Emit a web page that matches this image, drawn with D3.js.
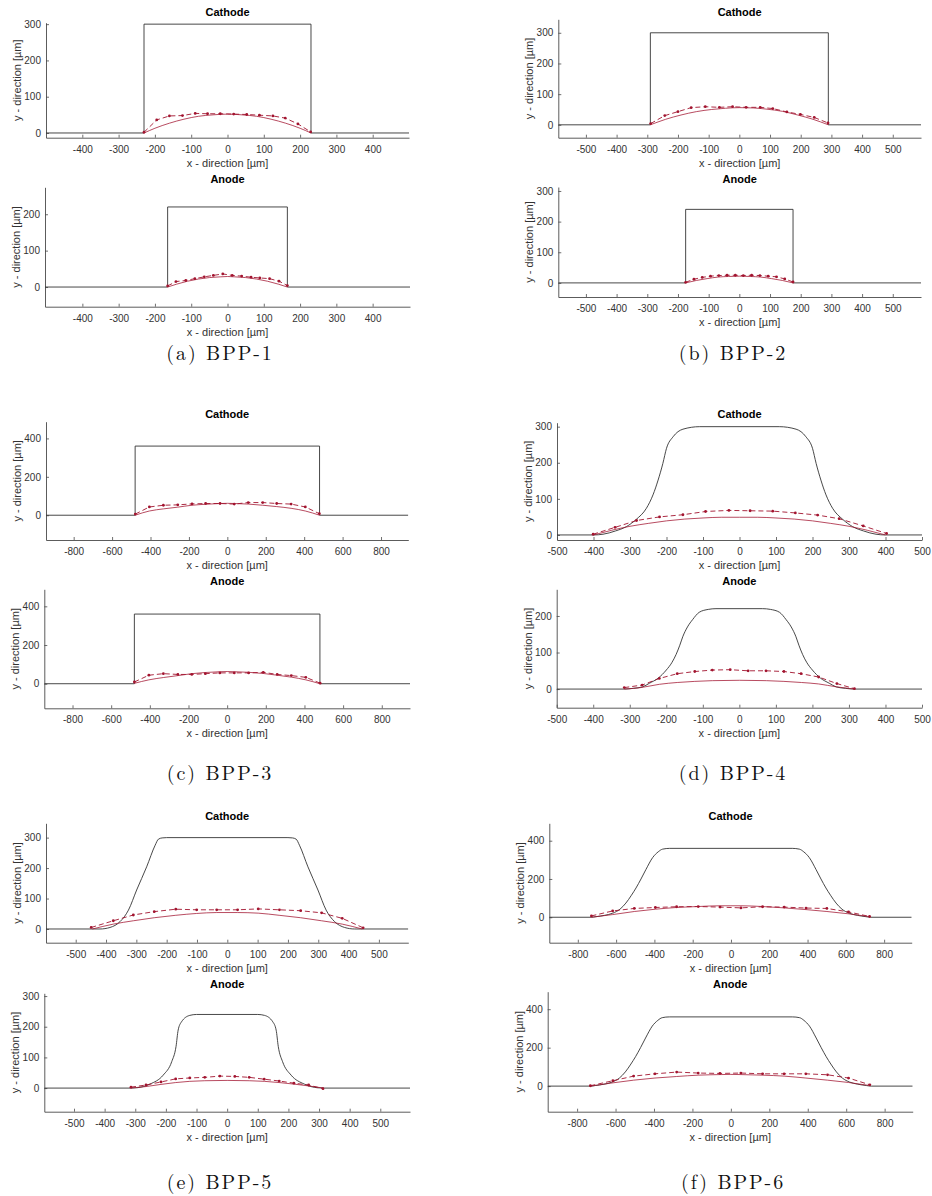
<!DOCTYPE html>
<html>
<head>
<meta charset="utf-8">
<script src="https://cdn.jsdelivr.net/npm/d3@7"></script>
<style>
  body { margin: 0; background: #fff; }
  svg { display: block; }
</style>
</head>
<body>
<svg id="fig" width="932" height="1196"></svg>
<script>
// ---------------------------------------------------------------
// Channel cross-sections of six bipolar plate designs (BPP-1..6).
// Each design: cathode and anode channel profile (black),
// measured GDL intrusion (dashed red with dots) and model (solid red).
// All values in micrometres.
// ---------------------------------------------------------------

const captions = ["(a) BPP-1", "(b) BPP-2", "(c) BPP-3", "(d) BPP-4", "(e) BPP-5", "(f) BPP-6"];
const sideTitles = ["Cathode", "Anode"];
const xAxisLabel = "x - direction [µm]";
const yAxisLabel = "y - direction [µm]";

// ---- BPP-1 ----
const bpp1XTicks = [-400, -300, -200, -100, 0, 100, 200, 300, 400];
const bpp1CathodeXLim = [-500, 500];
const bpp1CathodeYLim = [-13, 304];
const bpp1CathodeYTicks = [0, 100, 200, 300];
const bpp1CathodeChannel = [[-500, 0], [-230, 0], [-230, 300], [230, 300], [230, 0], [500, 0]];
const bpp1CathodeMeasured = [[-230, 2], [-195, 36], [-160, 47], [-124, 48], [-89, 54], [-55, 53], [-20, 53], [17, 52], [53, 51], [88, 49], [125, 47], [159, 41], [194, 25], [229, 3]];
const bpp1CathodeModel = [[-230, 0], [-200, 13], [-160, 27], [-120, 38], [-80, 46], [-40, 50], [0, 52], [40, 50], [80, 46], [120, 38], [160, 27], [200, 13], [230, 0]];
const bpp1AnodeXLim = [-503, 503];
const bpp1AnodeYLim = [-54, 274];
const bpp1AnodeYTicks = [0, 100, 200];
const bpp1AnodeChannel = [[-503, 0], [-165, 0], [-165, 220], [165, 220], [165, 0], [503, 0]];
const bpp1AnodeMeasured = [[-165, 3], [-142, 15], [-115, 18], [-90, 23], [-64, 28], [-39, 32], [-13, 36], [13, 32], [39, 30], [65, 27], [89, 25], [116, 23], [142, 16], [165, 4]];
const bpp1AnodeModel = [[-165, 0], [-140, 8], [-110, 16], [-80, 22], [-50, 26], [-20, 28], [0, 29], [20, 28], [50, 26], [80, 22], [110, 16], [140, 8], [165, 0]];

// ---- BPP-2 ----
const bpp2XTicks = [-500, -400, -300, -200, -100, 0, 100, 200, 300, 400, 500];
const bpp2CathodeXLim = [-590, 592];
const bpp2CathodeYLim = [-42, 344];
const bpp2CathodeYTicks = [0, 100, 200, 300];
const bpp2CathodeChannel = [[-590, 0], [-290, 0], [-290, 300], [290, 300], [290, 0], [592, 0]];
const bpp2CathodeMeasured = [[-289, 4], [-243, 30], [-200, 43], [-157, 56], [-111, 59], [-65, 57], [-22, 59], [22, 57], [68, 57], [109, 53], [155, 42], [199, 34], [244, 24], [289, 6]];
const bpp2CathodeModel = [[-290, 0], [-240, 18], [-190, 32], [-140, 43], [-90, 50], [-45, 54], [0, 56], [45, 55], [90, 51], [140, 44], [190, 32], [240, 18], [290, 0]];
const bpp2AnodeXLim = [-590, 592];
const bpp2AnodeYLim = [-46, 313];
const bpp2AnodeYTicks = [0, 100, 200, 300];
const bpp2AnodeChannel = [[-590, 0], [-175, 0], [-175, 240], [175, 240], [175, 0], [592, 0]];
const bpp2AnodeMeasured = [[-175, 2], [-148, 12], [-121, 18], [-94, 22], [-67, 24], [-40, 25], [-13, 25], [13, 24], [40, 25], [67, 24], [94, 22], [121, 20], [148, 13], [175, 3]];
const bpp2AnodeModel = [[-175, 0], [-140, 8], [-105, 14], [-70, 19], [-35, 21], [0, 22], [35, 21], [70, 19], [105, 14], [140, 8], [175, 0]];

// ---- BPP-3 ----
const bpp3XTicks = [-800, -600, -400, -200, 0, 200, 400, 600, 800];
const bpp3CathodeXLim = [-944, 942];
const bpp3CathodeYLim = [-129, 487];
const bpp3CathodeYTicks = [0, 200, 400];
const bpp3CathodeChannel = [[-944, 0], [-480, 0], [-480, 360], [480, 360], [480, 0], [942, 0]];
const bpp3CathodeMeasured = [[-479, 6], [-406, 43], [-333, 52], [-258, 54], [-184, 59], [-113, 61], [-38, 61], [36, 58], [109, 66], [184, 66], [257, 61], [332, 58], [406, 43], [479, 8]];
const bpp3CathodeModel = [[-480, 0], [-406, 22], [-333, 33], [-258, 42], [-184, 52], [-113, 57], [-38, 61], [0, 62], [38, 61], [109, 58], [184, 52], [257, 45], [332, 36], [406, 22], [480, 0]];
const bpp3AnodeXLim = [-946, 946];
const bpp3AnodeYLim = [-127, 488];
const bpp3AnodeYTicks = [0, 200, 400];
const bpp3AnodeChannel = [[-946, 0], [-480, 0], [-480, 360], [480, 360], [480, 0], [946, 0]];
const bpp3AnodeMeasured = [[-480, 9], [-405, 44], [-330, 52], [-255, 48], [-183, 48], [-113, 52], [-38, 56], [37, 56], [111, 56], [187, 59], [259, 48], [332, 42], [407, 33], [481, 3]];
const bpp3AnodeModel = [[-480, 2], [-405, 20], [-330, 32], [-255, 42], [-183, 52], [-113, 58], [-38, 62], [0, 63], [38, 62], [111, 59], [187, 53], [259, 44], [332, 34], [407, 20], [480, 0]];

// ---- BPP-4 ----
const bpp4XTicks = [-500, -400, -300, -200, -100, 0, 100, 200, 300, 400, 500];
const bpp4CathodeXLim = [-500, 500];
const bpp4CathodeYLim = [-14, 311];
const bpp4CathodeYTicks = [0, 100, 200, 300];
const bpp4CathodeChannel = [[-500, 0], [-400, 0], [-374, 2], [-340, 11], [-310, 23], [-283, 43], [-255, 74], [-237, 111], [-223, 152], [-210, 198], [-200, 240], [-182, 272], [-155, 293], [-109, 300], [109, 300], [155, 293], [182, 272], [200, 240], [210, 198], [223, 152], [237, 111], [255, 74], [283, 43], [310, 23], [340, 11], [374, 2], [400, 0], [500, 0]];
const bpp4CathodeMeasured = [[-401, 2], [-341, 21], [-282, 40], [-219, 50], [-155, 56], [-93, 65], [-29, 68], [29, 67], [91, 66], [153, 61], [214, 55], [273, 45], [339, 25], [403, 4]];
const bpp4CathodeModel = [[-400, 0], [-350, 13], [-300, 24], [-250, 32], [-200, 39], [-150, 44], [-100, 47], [-50, 49], [0, 49], [50, 49], [100, 47], [150, 44], [200, 39], [250, 32], [300, 24], [350, 13], [400, 0]];
const bpp4AnodeXLim = [-500, 500];
const bpp4AnodeYLim = [-51, 273];
const bpp4AnodeYTicks = [0, 100, 200];
const bpp4AnodeChannel = [[-500, 0], [-315, 0], [-290, 2], [-265, 6], [-246, 16], [-222, 30], [-200, 52], [-185, 72], [-173, 95], [-163, 120], [-155, 143], [-142, 170], [-128, 190], [-110, 210], [-85, 218], [-64, 220], [64, 220], [85, 218], [110, 210], [128, 190], [142, 170], [155, 143], [163, 120], [173, 95], [185, 72], [200, 52], [222, 30], [246, 16], [265, 6], [290, 2], [315, 0], [500, 0]];
const bpp4AnodeMeasured = [[-315, 4], [-266, 11], [-219, 29], [-170, 42], [-122, 48], [-74, 52], [-25, 53], [24, 50], [73, 50], [122, 48], [169, 42], [217, 33], [267, 15], [315, 1]];
const bpp4AnodeModel = [[-315, 0], [-270, 4], [-219, 13], [-170, 18], [-122, 21], [-74, 23], [0, 24], [74, 23], [122, 21], [170, 18], [217, 14], [266, 6], [315, 0]];

// ---- BPP-5 ----
const bpp5XTicks = [-500, -400, -300, -200, -100, 0, 100, 200, 300, 400, 500];
const bpp5CathodeXLim = [-598, 597];
const bpp5CathodeYLim = [-45, 347];
const bpp5CathodeYTicks = [0, 100, 200, 300];
const bpp5CathodeChannel = [[-598, 0], [-420, 0], [-387, 5], [-354, 24], [-326, 62], [-299, 128], [-266, 204], [-238, 275], [-227, 295], [-215, 299], [-200, 300], [200, 300], [215, 299], [227, 295], [238, 275], [266, 204], [299, 128], [326, 62], [354, 24], [387, 5], [420, 0], [597, 0]];
const bpp5CathodeMeasured = [[-449, 5], [-376, 27], [-310, 46], [-241, 57], [-170, 65], [-101, 63], [-35, 63], [34, 63], [102, 66], [172, 63], [242, 60], [311, 53], [379, 35], [448, 4]];
const bpp5CathodeModel = [[-445, 0], [-376, 16], [-310, 27], [-241, 37], [-170, 45], [-101, 51], [-35, 54], [34, 54], [102, 52], [171, 45], [242, 37], [311, 27], [379, 16], [445, 0]];
const bpp5AnodeXLim = [-597, 597];
const bpp5AnodeYLim = [-77, 309];
const bpp5AnodeYTicks = [0, 100, 200, 300];
const bpp5AnodeChannel = [[-597, 0], [-317, 0], [-295, 1], [-252, 13], [-209, 42], [-181, 86], [-167, 135], [-160, 189], [-149, 216], [-122, 237], [-100, 240], [100, 240], [122, 237], [149, 216], [160, 189], [167, 135], [181, 86], [209, 42], [252, 13], [295, 1], [317, 0], [597, 0]];
const bpp5AnodeMeasured = [[-314, 3], [-265, 10], [-216, 20], [-168, 30], [-122, 33], [-73, 35], [-24, 39], [25, 38], [72, 35], [121, 29], [170, 23], [218, 16], [266, 10], [313, -2]];
const bpp5AnodeModel = [[-315, 0], [-265, 5], [-216, 12], [-168, 18], [-122, 22], [-73, 24], [0, 25], [72, 24], [121, 22], [170, 18], [218, 13], [266, 7], [315, 0]];

// ---- BPP-6 ----
const bpp6XTicks = [-800, -600, -400, -200, 0, 200, 400, 600, 800];
const bpp6CathodeXLim = [-949, 944];
const bpp6CathodeYLim = [-133, 491];
const bpp6CathodeYTicks = [0, 200, 400];
const bpp6CathodeChannel = [[-949, 0], [-730, 0], [-705, 3], [-660, 10], [-618, 21], [-580, 42], [-549, 74], [-520, 115], [-496, 153], [-470, 200], [-444, 250], [-409, 312], [-380, 342], [-357, 356], [-320, 360], [320, 360], [357, 356], [380, 342], [409, 312], [444, 250], [470, 200], [496, 153], [520, 115], [549, 74], [580, 42], [618, 21], [660, 10], [705, 3], [730, 0], [944, 0]];
const bpp6CathodeMeasured = [[-729, 7], [-618, 33], [-505, 46], [-395, 51], [-284, 55], [-171, 56], [-57, 53], [52, 49], [165, 55], [278, 53], [392, 48], [501, 46], [614, 28], [724, 4]];
const bpp6CathodeModel = [[-729, 0], [-618, 14], [-505, 30], [-395, 42], [-284, 51], [-171, 56], [-57, 60], [0, 60], [52, 60], [165, 56], [278, 49], [392, 40], [501, 30], [614, 18], [724, 3]];
const bpp6AnodeXLim = [-953, 946];
const bpp6AnodeYLim = [-133, 491];
const bpp6AnodeYTicks = [0, 200, 400];
const bpp6AnodeChannel = [[-953, 0], [-730, 0], [-705, 3], [-660, 10], [-618, 21], [-580, 42], [-549, 74], [-520, 115], [-496, 153], [-470, 200], [-444, 250], [-409, 312], [-380, 342], [-357, 356], [-320, 360], [320, 360], [357, 356], [380, 342], [409, 312], [444, 250], [470, 200], [496, 153], [520, 115], [549, 74], [580, 42], [618, 21], [660, 10], [705, 3], [730, 0], [946, 0]];
const bpp6AnodeMeasured = [[-731, 2], [-614, 28], [-506, 52], [-395, 64], [-282, 73], [-170, 68], [-57, 66], [52, 68], [165, 64], [277, 64], [390, 64], [503, 59], [612, 42], [723, 7]];
const bpp6AnodeModel = [[-731, 0], [-614, 17], [-506, 31], [-395, 42], [-282, 50], [-170, 57], [-57, 60], [0, 61], [52, 60], [165, 57], [277, 52], [390, 42], [503, 31], [612, 19], [723, 3]];

// Panel table: one entry per axes, in design order (cathode first).
const panels = [
  { design: 0, side: 0, xlim: bpp1CathodeXLim, ylim: bpp1CathodeYLim, xticks: bpp1XTicks, yticks: bpp1CathodeYTicks, channel: bpp1CathodeChannel, measured: bpp1CathodeMeasured, model: bpp1CathodeModel },
  { design: 0, side: 1, xlim: bpp1AnodeXLim, ylim: bpp1AnodeYLim, xticks: bpp1XTicks, yticks: bpp1AnodeYTicks, channel: bpp1AnodeChannel, measured: bpp1AnodeMeasured, model: bpp1AnodeModel },
  { design: 1, side: 0, xlim: bpp2CathodeXLim, ylim: bpp2CathodeYLim, xticks: bpp2XTicks, yticks: bpp2CathodeYTicks, channel: bpp2CathodeChannel, measured: bpp2CathodeMeasured, model: bpp2CathodeModel },
  { design: 1, side: 1, xlim: bpp2AnodeXLim, ylim: bpp2AnodeYLim, xticks: bpp2XTicks, yticks: bpp2AnodeYTicks, channel: bpp2AnodeChannel, measured: bpp2AnodeMeasured, model: bpp2AnodeModel },
  { design: 2, side: 0, xlim: bpp3CathodeXLim, ylim: bpp3CathodeYLim, xticks: bpp3XTicks, yticks: bpp3CathodeYTicks, channel: bpp3CathodeChannel, measured: bpp3CathodeMeasured, model: bpp3CathodeModel },
  { design: 2, side: 1, xlim: bpp3AnodeXLim, ylim: bpp3AnodeYLim, xticks: bpp3XTicks, yticks: bpp3AnodeYTicks, channel: bpp3AnodeChannel, measured: bpp3AnodeMeasured, model: bpp3AnodeModel },
  { design: 3, side: 0, xlim: bpp4CathodeXLim, ylim: bpp4CathodeYLim, xticks: bpp4XTicks, yticks: bpp4CathodeYTicks, channel: bpp4CathodeChannel, measured: bpp4CathodeMeasured, model: bpp4CathodeModel },
  { design: 3, side: 1, xlim: bpp4AnodeXLim, ylim: bpp4AnodeYLim, xticks: bpp4XTicks, yticks: bpp4AnodeYTicks, channel: bpp4AnodeChannel, measured: bpp4AnodeMeasured, model: bpp4AnodeModel },
  { design: 4, side: 0, xlim: bpp5CathodeXLim, ylim: bpp5CathodeYLim, xticks: bpp5XTicks, yticks: bpp5CathodeYTicks, channel: bpp5CathodeChannel, measured: bpp5CathodeMeasured, model: bpp5CathodeModel },
  { design: 4, side: 1, xlim: bpp5AnodeXLim, ylim: bpp5AnodeYLim, xticks: bpp5XTicks, yticks: bpp5AnodeYTicks, channel: bpp5AnodeChannel, measured: bpp5AnodeMeasured, model: bpp5AnodeModel },
  { design: 5, side: 0, xlim: bpp6CathodeXLim, ylim: bpp6CathodeYLim, xticks: bpp6XTicks, yticks: bpp6CathodeYTicks, channel: bpp6CathodeChannel, measured: bpp6CathodeMeasured, model: bpp6CathodeModel },
  { design: 5, side: 1, xlim: bpp6AnodeXLim, ylim: bpp6AnodeYLim, xticks: bpp6XTicks, yticks: bpp6AnodeYTicks, channel: bpp6AnodeChannel, measured: bpp6AnodeMeasured, model: bpp6AnodeModel }
];

// ---- Layout (pixels) ----
// Plot boxes [left, right, top, bottom], same order as panels.
const boxes = [
  [46, 409, 22.7, 137.7], [45, 410, 187.3, 306.7],
  [558.3, 921, 19.3, 137.7], [558.3, 921, 187, 297],
  [46, 408.3, 421.7, 540], [44.3, 410, 589.3, 708.3],
  [557, 922, 422.7, 540], [556.7, 922, 589.3, 707.7],
  [46, 408.3, 823.3, 942.7], [44.3, 410, 993.3, 1111.7],
  [549.3, 911.7, 823.3, 942.7], [547.7, 912.7, 991.7, 1111.7]
];
// Title centre line for each figure row (cathode, anode).
const titleRows = [[11.7, 179], [414, 581], [815.7, 984]];
// Sub-figure caption anchors [centre x, baseline y].
const captionPos = [[220, 360], [733, 360], [220, 780], [733, 780], [220, 1189], [733, 1189]];
// Smooth-edged channels for the last three designs.
const smoothChannel = [false, false, false, true, true, true];

const SANS = "'Liberation Sans', Arial, Helvetica, sans-serif";
const RED = "#a2142f";
const AXIS = "#4a4a4a";
const TEXT = "#333333";

const svg = d3.select("#fig");
const defs = svg.append("defs");
const fmt = d => String(d);

panels.forEach((p, i) => {
  const [left, right, top, bottom] = boxes[i];
  const x = d3.scaleLinear().domain(p.xlim).range([left, right]);
  const y = d3.scaleLinear().domain(p.ylim).range([bottom, top]);
  const g = svg.append("g").attr("class", "panel");

  const clipId = "plotclip" + i;
  defs.append("clipPath").attr("id", clipId)
    .append("rect").attr("x", left).attr("y", top - 2)
    .attr("width", right - left).attr("height", bottom - top + 2);

  // Axes (left and bottom only, ticks pointing inwards)
  const gx = g.append("g")
    .attr("transform", `translate(0,${bottom})`)
    .call(d3.axisBottom(x).tickValues(p.xticks).tickFormat(fmt)
      .tickSizeInner(-3).tickSizeOuter(0).tickPadding(8));
  const gy = g.append("g")
    .attr("transform", `translate(${left},0)`)
    .call(d3.axisLeft(y).tickValues(p.yticks).tickFormat(fmt)
      .tickSizeInner(-3).tickSizeOuter(0).tickPadding(5));
  [gx, gy].forEach(a => {
    a.attr("font-family", SANS).attr("font-size", 10);
    a.select(".domain").attr("stroke", AXIS).attr("stroke-width", 0.9);
    a.selectAll(".tick line").attr("stroke", AXIS).attr("stroke-width", 0.8);
    a.selectAll(".tick text").attr("fill", TEXT);
  });

  const plot = g.append("g").attr("clip-path", `url(#${clipId})`);

  // Channel profile
  const channelLine = d3.line()
    .x(d => x(d[0])).y(d => y(d[1]))
    .curve(smoothChannel[p.design] ? d3.curveMonotoneX : d3.curveLinear);
  plot.append("path").datum(p.channel)
    .attr("d", channelLine)
    .attr("fill", "none").attr("stroke", "#333").attr("stroke-width", 0.9);

  // Model curve
  const modelLine = d3.line().x(d => x(d[0])).y(d => y(d[1])).curve(d3.curveMonotoneX);
  plot.append("path").datum(p.model)
    .attr("d", modelLine)
    .attr("fill", "none").attr("stroke", RED).attr("stroke-opacity", 0.85).attr("stroke-width", 0.9);

  // Measured profile: dashed with point markers
  const measLine = d3.line().x(d => x(d[0])).y(d => y(d[1]));
  plot.append("path").datum(p.measured)
    .attr("d", measLine)
    .attr("fill", "none").attr("stroke", RED).attr("stroke-width", 0.9)
    .attr("stroke-dasharray", "5,3");
  plot.selectAll("circle.pt").data(p.measured).join("circle")
    .attr("class", "pt")
    .attr("cx", d => x(d[0])).attr("cy", d => y(d[1]))
    .attr("r", 1.4).attr("fill", RED);

  // Title, axis labels
  g.append("text")
    .attr("x", (left + right) / 2).attr("y", titleRows[Math.floor(p.design / 2)][p.side])
    .attr("dy", "0.35em").attr("text-anchor", "middle")
    .attr("font-family", SANS).attr("font-size", 11).attr("font-weight", "bold")
    .attr("fill", "#000").text(sideTitles[p.side]);
  g.append("text")
    .attr("x", (left + right) / 2).attr("y", bottom + 25)
    .attr("dy", "0.35em").attr("text-anchor", "middle")
    .attr("font-family", SANS).attr("font-size", 11)
    .attr("fill", TEXT).text(xAxisLabel);
  g.append("text")
    .attr("transform", `translate(${left - 28.7},${(top + bottom) / 2}) rotate(-90)`)
    .attr("dy", "0.35em").attr("text-anchor", "middle")
    .attr("font-family", SANS).attr("font-size", 11)
    .attr("fill", TEXT).text(yAxisLabel);
});

// Sub-figure captions
svg.selectAll("text.caption").data(captions).join("text")
  .attr("class", "caption")
  .attr("x", (d, i) => captionPos[i][0]).attr("y", (d, i) => captionPos[i][1])
  .attr("text-anchor", "middle")
  .attr("font-family", "'Latin Modern Roman', 'CMU Serif', 'Liberation Serif', serif")
  .attr("font-size", 20).attr("letter-spacing", 1.9)
  .attr("fill", "#111").text(d => d);
</script>
</body>
</html>
